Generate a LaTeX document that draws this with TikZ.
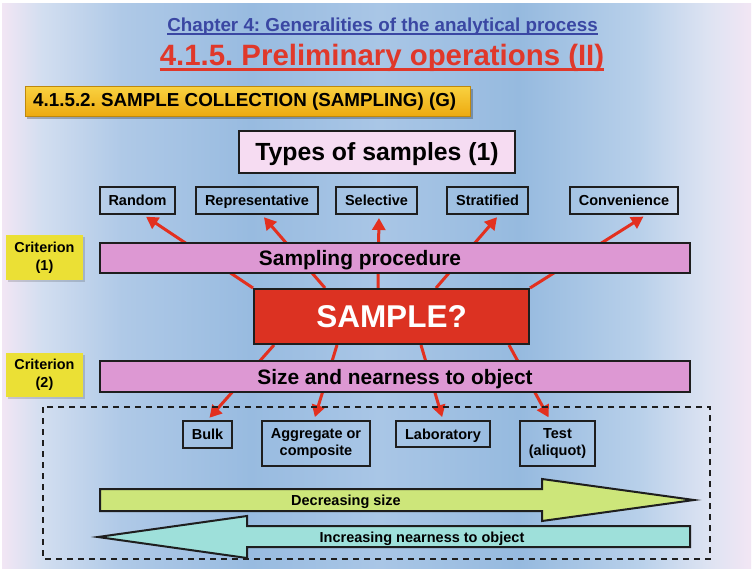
\documentclass[tikz,border=0pt]{standalone}
\usepackage{fontspec}
\setmainfont{Liberation Sans}
\usetikzlibrary{arrows.meta}
\frenchspacing
\definecolor{bgA}{HTML}{F2E6F4}
\definecolor{bgB}{HTML}{D2DEF0}
\definecolor{bgC}{HTML}{AFC9E7}
\definecolor{bgD}{HTML}{98BBE0}
\definecolor{bgE}{HTML}{A9C6E6}
\definecolor{bgF}{HTML}{96BADF}
\definecolor{bgG}{HTML}{B8D0EA}
\definecolor{bgH}{HTML}{DDE3F2}
\definecolor{chapblue}{HTML}{3A47A3}
\definecolor{titlered}{HTML}{E0382A}
\definecolor{goldtop}{HTML}{F9D241}
\definecolor{goldbot}{HTML}{EDAA10}
\definecolor{boxline}{HTML}{1E1E1E}
\definecolor{typespink}{HTML}{F6DCF2}
\definecolor{barpink}{HTML}{DD98D3}
\definecolor{samplered}{HTML}{DC3222}
\definecolor{arrowred}{HTML}{E3301F}
\definecolor{crityellow}{HTML}{EBE035}
\definecolor{greenarrow}{HTML}{CDE67A}
\definecolor{cyanarrow}{HTML}{9EE0DA}
\pgfdeclarehorizontalshading{bgshade}{100bp}{color(0bp)=(bgA); color(25bp)=(bgA); color(27.7bp)=(bgB); color(33bp)=(bgC); color(41.6bp)=(bgD); color(50.2bp)=(bgE); color(59.5bp)=(bgF); color(67.5bp)=(bgG); color(72.1bp)=(bgH); color(75bp)=(bgA); color(100bp)=(bgA)}
\pgfdeclarelayer{bglayer}
\pgfdeclarelayer{arrowlayer}
\pgfsetlayers{bglayer,arrowlayer,main}
\tikzset{
  smallbox/.style={draw=boxline, line width=2pt, minimum height=27pt, inner sep=0pt, align=center, font=\fontsize{14.5}{17}\selectfont\bfseries},
  oneline/.style={text height=10.4pt, text depth=0pt},
  barbox/.style={draw=boxline, fill=barpink, line width=2pt, minimum width=590pt, inner sep=0pt},
  critbox/.style={fill=crityellow, minimum width=77pt, minimum height=45pt, inner sep=0pt, align=center, font=\fontsize{14.4}{18}\selectfont\bfseries},
  redarrow/.style={draw=arrowred, line width=3pt, -{Triangle[length=12pt,width=13pt]}, shorten >=3pt},
  bigarrow/.style={draw=boxline, line width=2pt, line join=miter},
  arrowtext/.style={inner sep=0pt, font=\fontsize{14.5}{17}\selectfont\bfseries}
}
\begin{document}
\begin{tikzpicture}[x=1pt,y=-1pt]
\useasboundingbox (0,0) rectangle (753,570);
\begin{pgfonlayer}{bglayer}
  \fill[white] (0,0) rectangle (753,570);
  \fill[shading=bgshade] (2,3) rectangle (751,568);
\end{pgfonlayer}

% titles
\node[anchor=base, inner sep=0pt, text=chapblue, font=\fontsize{18.8}{22}\selectfont\bfseries] (chap) at (382.5,31) {Chapter 4: Generalities of the analytical process};
\draw[chapblue, line width=1.5pt] ([yshift=-3pt]chap.base west) -- ([yshift=-3pt]chap.base east);
\node[anchor=base, inner sep=0pt, text=titlered, font=\fontsize{29.4}{34}\selectfont\bfseries] (title) at (382,65) {4.1.5. Preliminary operations (II)};
\draw[titlered, line width=2.2pt] ([yshift=-4.5pt]title.base west) -- ([yshift=-4.5pt]title.base east);

% banner
\fill[black, opacity=0.25] (27,89) rectangle (473,119);
\draw[shading=axis, top color=goldtop, bottom color=goldbot, draw=goldbot!80!black, line width=0.6pt] (25,86) rectangle (470,116);
\node[anchor=base west, inner sep=0pt, font=\fontsize{18.8}{22}\selectfont\bfseries] (banner) at (33,106) {4.1.5.2. SAMPLE COLLECTION (SAMPLING) (G)};

% types box
\node[draw=boxline, fill=typespink, line width=2pt, minimum width=276pt, minimum height=42pt, inner sep=0pt, text height=17.8pt, text depth=0pt, font=\fontsize{24.8}{28}\selectfont\bfseries] (types) at (377,152) {Types of samples (1)};

% top small boxes
\node[smallbox, oneline, minimum width=75pt] (random) at (137.5,200.5) {Random};
\node[smallbox, oneline, minimum width=122pt] (repr) at (257,200.5) {Representative};
\node[smallbox, oneline, minimum width=81pt] (selective) at (376.5,200.5) {Selective};
\node[smallbox, oneline, minimum width=81pt] (stratified) at (487.5,200.5) {Stratified};
\node[smallbox, oneline, minimum width=108pt] (convenience) at (624,200.5) {Convenience};

% criteria
\fill[black, opacity=0.15] (8,237) rectangle (85,282);
\node[critbox] (crit1) at (44.5,257.5) {Criterion\\(1)};
\fill[black, opacity=0.15] (8,355) rectangle (85,399);
\node[critbox, minimum height=44pt] (crit2) at (44.5,375) {Criterion\\(2)};

% bars
\node[barbox, minimum height=30pt] (sampbar) at (395,258) {};
\node[inner sep=0pt, text height=15pt, text depth=0pt, font=\fontsize{20.9}{24}\selectfont\bfseries] (sampbartext) at (360,258) {Sampling procedure};
\node[barbox, minimum height=31pt, text height=15pt, text depth=0pt, font=\fontsize{20.9}{24}\selectfont\bfseries] (sizebar) at (395,376.5) {Size and nearness to object};

% sample box
\node[draw=boxline, fill=samplered, line width=2pt, minimum width=275pt, minimum height=55pt, inner sep=0pt, text=white, text height=22.5pt, text depth=0pt, font=\fontsize{31.5}{34}\selectfont\bfseries] (sample) at (391.5,316.5) {SAMPLE?};

% bottom small boxes
\node[smallbox, oneline, minimum width=49pt] (bulk) at (207.5,434.5) {Bulk};
\node[smallbox, minimum width=108pt, minimum height=45pt] (aggr) at (316,443.5) {Aggregate or\\composite};
\node[smallbox, oneline, minimum width=94pt, minimum height=26pt] (lab) at (443,434) {Laboratory};
\node[smallbox, minimum width=75pt, minimum height=45pt] (test) at (557.5,443.5) {Test\\(aliquot)};

% arrows
\begin{pgfonlayer}{arrowlayer}
  \draw[redarrow] (sample.north west) -- ([xshift=6pt]random.south);
  \draw[redarrow] ([xshift=72pt]sample.north west) -- ([xshift=5pt]repr.south);
  \draw[redarrow] ([xshift=125pt]sample.north west) -- ([xshift=2.5pt]selective.south);
  \draw[redarrow] ([xshift=183pt]sample.north west) -- ([xshift=11.5pt]stratified.south);
  \draw[redarrow] (sample.north east) -- ([xshift=22pt]convenience.south);
  \draw[redarrow] ([xshift=21pt]sample.south west) -- (bulk.north);
  \draw[redarrow] ([xshift=84pt]sample.south west) -- ([xshift=-2pt]aggr.north);
  \draw[redarrow] ([xshift=168pt]sample.south west) -- (lab.north);
  \draw[redarrow] ([xshift=256pt]sample.south west) -- ([xshift=-7.5pt]test.north);
\end{pgfonlayer}

% dashed group
\draw[boxline, line width=1.5pt, dash pattern=on 6pt off 5pt] (43,407) rectangle (710,559);

% big arrows
\draw[bigarrow, fill=greenarrow] (100,489) -- (542,489) -- (542,479) -- (694,500) -- (542,521) -- (542,511) -- (100,511) -- cycle;
\node[arrowtext, text height=10.4pt, text depth=0pt] (dec) at (346,500) {Decreasing size};
\draw[bigarrow, fill=cyanarrow] (690,526) -- (247,526) -- (247,516) -- (98,537) -- (247,558) -- (247,547) -- (690,547) -- cycle;
\node[arrowtext, text height=10.4pt, text depth=0pt] (inc) at (422,537) {Increasing nearness to object};
\end{tikzpicture}
\end{document}
